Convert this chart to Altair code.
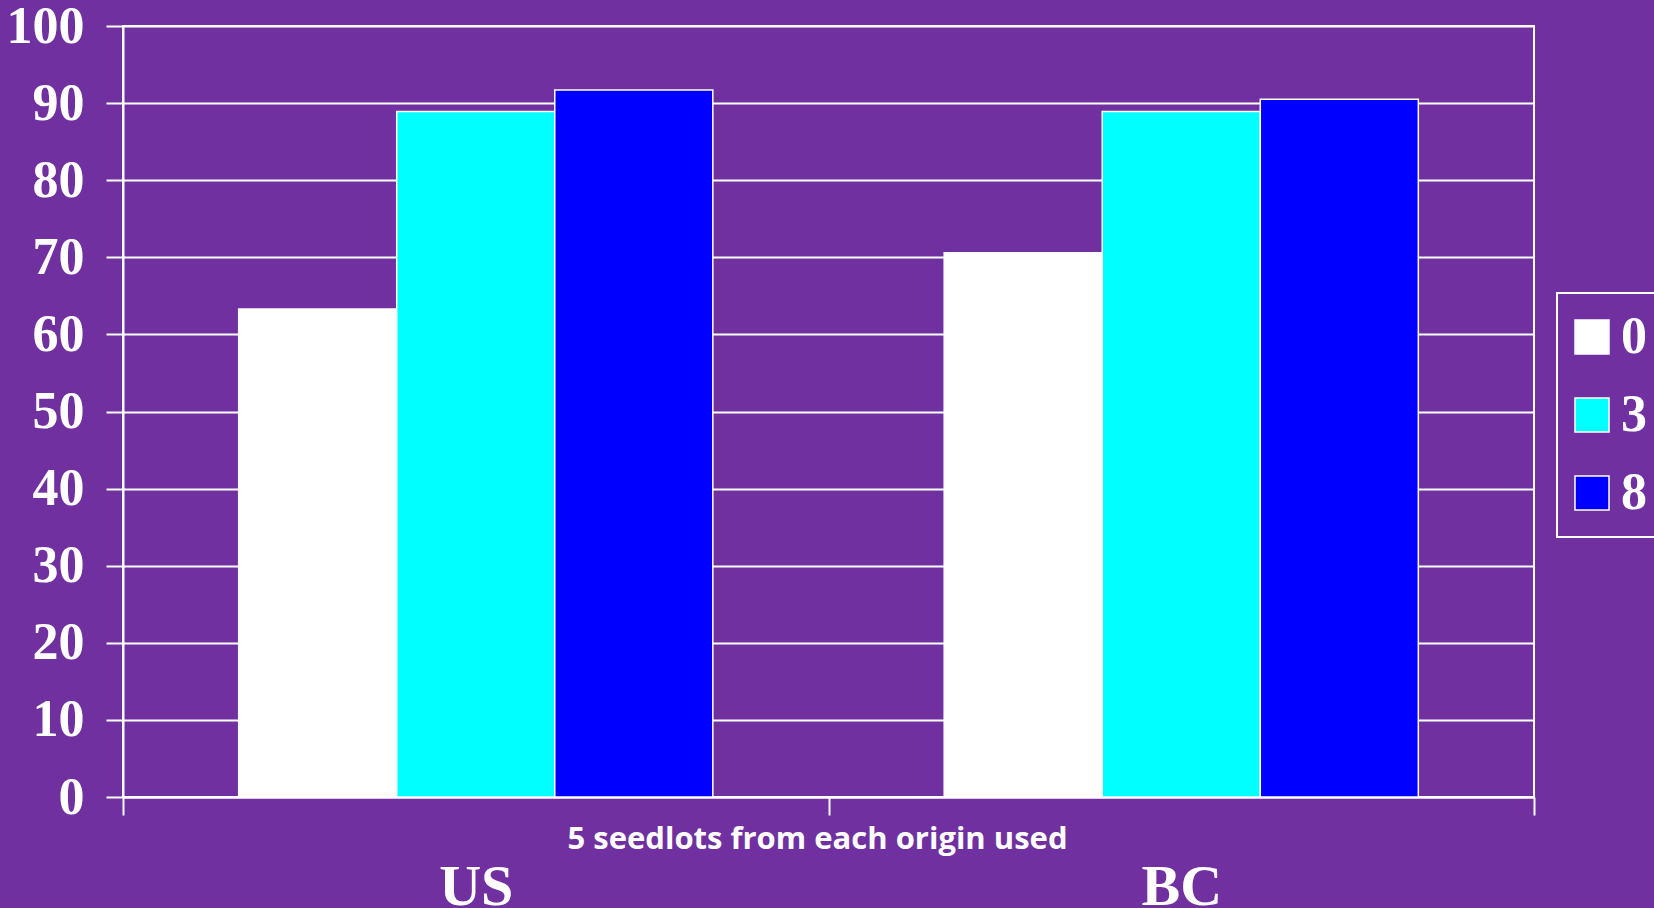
import altair as alt
import pandas as pd

origins = ["US", "BC"]
groups = ["0", "3", "8"]
vals_0 = [63.3, 70.6]
vals_3 = [88.9, 88.9]
vals_8 = [91.7, 90.5]
colors = ["#FFFFFF", "#00FFFF", "#0000FF"]
y_ticks = [0, 10, 20, 30, 40, 50, 60, 70, 80, 90, 100]

rows = []
for i, o in enumerate(origins):
    for g, vals in zip(groups, [vals_0, vals_3, vals_8]):
        rows.append({"origin": o, "group": g, "value": vals[i]})
df = pd.DataFrame(rows)

serif = "Liberation Serif"

chart = alt.Chart(df).mark_bar(stroke="white", strokeWidth=1.5).encode(
    x=alt.X(
        "origin:N",
        sort=origins,
        scale=alt.Scale(paddingInner=0, paddingOuter=0),
        axis=alt.Axis(
            title="5 seedlots from each origin used",
            titleFont="Open Sans",
            titleFontWeight="bold",
            titleFontSize=31,
            titleColor="white",
            titleX=694,
            titleY=51,
            titleAlign="center",
            titleBaseline="alphabetic",
            labelAngle=0,
            labelFont=serif,
            labelFontWeight="bold",
            labelFontSize=58,
            labelColor="white",
            labelPadding=89,
            labelBaseline="alphabetic",
            tickBand="extent",
            tickSize=18,
            tickColor="white",
            tickWidth=2,
            domainColor="white",
            domainWidth=2,
            grid=False,
        ),
    ),
    xOffset=alt.XOffset(
        "group:N",
        sort=groups,
        scale=alt.Scale(paddingInner=0, paddingOuter=0.732),
    ),
    y=alt.Y(
        "value:Q",
        scale=alt.Scale(domain=[0, 100], nice=False),
        axis=alt.Axis(
            title="",
            values=y_ticks,
            labelFont=serif,
            labelFontWeight="bold",
            labelFontSize=52,
            labelColor="white",
            labelPadding=22,
            tickSize=17,
            tickColor="white",
            tickWidth=2,
            domainColor="white",
            domainWidth=2,
            grid=True,
            gridColor="white",
            gridWidth=2,
            gridOpacity=1,
        ),
    ),
    color=alt.Color(
        "group:N",
        sort=groups,
        scale=alt.Scale(domain=groups, range=colors),
        legend=alt.Legend(
            title="",
            orient="none",
            legendX=1434,
            legendY=267,
            padding=18,
            strokeColor="white",
            symbolType="square",
            symbolSize=1156,
            symbolStrokeColor="white",
            symbolStrokeWidth=1.5,
            symbolOpacity=1,
            symbolOffset=-9,
            labelFont=serif,
            labelFontWeight="bold",
            labelFontSize=52,
            labelColor="white",
            labelOffset=3,
            rowPadding=26,
        ),
    ),
).properties(
    width=1411,
    height=771,
    background="#7030A0",
    padding={"left": 123, "top": 26, "right": 120, "bottom": 111},
    autosize=alt.AutoSizeParams(type="none"),
).configure_view(
    stroke="white",
    strokeWidth=2,
).configure_legend(
    strokeWidth=2,
)

chart.save("out.html", embed_options={"renderer": "svg", "actions": False})
